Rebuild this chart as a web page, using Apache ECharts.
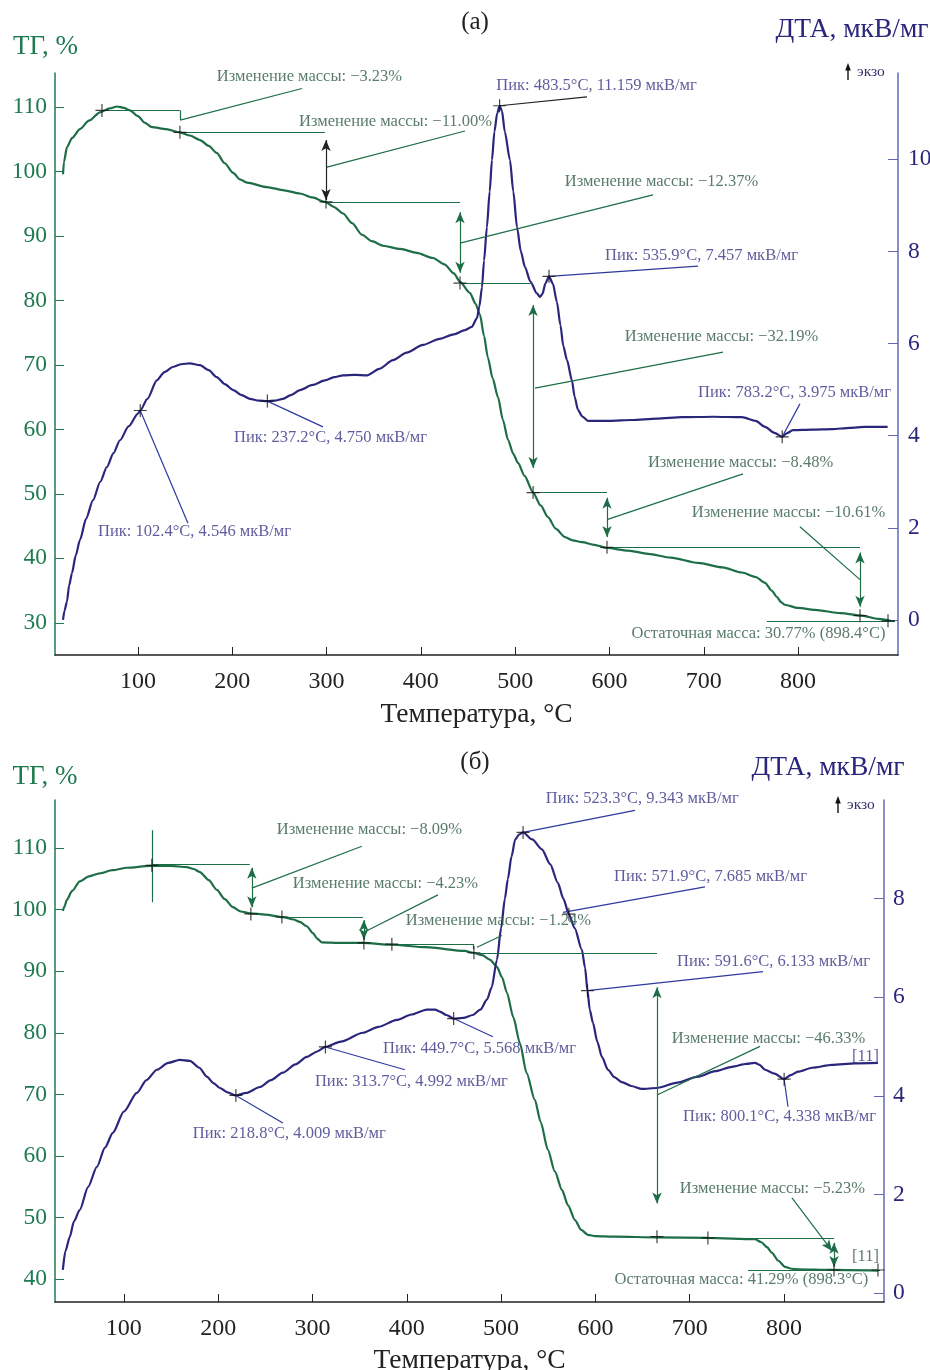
<!DOCTYPE html>
<html><head><meta charset="utf-8">
<script src="https://cdn.jsdelivr.net/npm/echarts@6/dist/echarts.min.js"></script>
<style>html,body{margin:0;padding:0;background:#fff}#c{width:930px;height:1370px}</style>
</head><body><div id="c"></div><script>
const FONT = '"Liberation Serif","DejaVu Serif","Times New Roman",serif';

// ---------- tick labels ----------
const xTicks = [100, 200, 300, 400, 500, 600, 700, 800];
const aTgTicks = [30, 40, 50, 60, 70, 80, 90, 100, 110];
const aDtaTicks = [0, 2, 4, 6, 8, 10];
const bTgTicks = [40, 50, 60, 70, 80, 90, 100, 110];
const bDtaTicks = [0, 2, 4, 6, 8];

// ---------- (а) TG curve ----------
const aTgTemp = [20.5,21.5,24.7,30,38.5,48,59.7,70,77.7,85,91.5,100,107,114.8,130,144.5,155,165.8,175,183.5,192,201,208,215.6,236.8,255,271.8,285,298.3,308,317.5,327,337.6,348,360,378,395.7,412.8,425,435,441.5,452,458,462.7,467,471,476,481.8,487,492.4,498,503,510,519,527,534.8,543,552.8,561,570.9,584,597.4,620,640.9,665,693.9,720,740.5,755,765,772,777.7,782,786,800,818,845,867.8,885,898];
const aTgVal = [99.6,101.5,103.8,105.2,106.6,107.9,109.2,109.8,110.1,109.9,109.5,108.6,107.6,106.9,106.6,106.1,105.6,104.9,104.0,102.9,101.3,99.8,98.8,98.3,97.6,97.1,96.6,96.0,95.3,94.5,93.5,92.0,90.2,89.2,88.5,88.0,87.4,86.6,85.6,84.2,82.9,81.2,79.5,77.8,74.5,71.2,68.0,65.0,61.5,58.4,56.2,54.8,52.8,50.2,48.2,46.4,44.6,43.3,42.8,42.5,42.1,41.6,41.2,40.7,40.1,39.3,38.6,37.8,37.1,36.2,35.0,34.0,33.2,32.8,32.3,32.0,31.5,31.1,30.6,30.3];

// ---------- (а) DTA curve ----------
const aDtaTemp = [20.5,22,24.7,27,30,34,38.5,45,52.3,60,67,74,80.9,90,100,102.4,110,120,128,137,146,155,165.7,175,183.5,192,201,210,218.8,228,237.2,245,253.8,262,271.8,285,298.3,308,317.5,330,342.9,356,370.4,385,402.2,420,435,446.8,454,459.5,462,464.8,467,470,473,475.4,478,481,483.5,486,489,494.5,498,502,506,510.4,516,523,526.3,529,532,535.9,540,544.3,548,551,555,560.2,563,566.6,571,577.2,600,623.9,650,676.9,710,740.5,755,765,775,783.2,788,794.6,815,836,855,871,895];
const aDtaVal = [0.0,0.2,0.4,0.75,1.02,1.4,1.74,2.2,2.6,3.0,3.32,3.62,3.9,4.2,4.48,4.546,4.8,5.2,5.38,5.49,5.55,5.57,5.53,5.42,5.27,5.12,4.99,4.88,4.8,4.76,4.75,4.76,4.8,4.88,4.99,5.1,5.2,5.27,5.31,5.32,5.31,5.45,5.64,5.8,5.97,6.1,6.2,6.29,6.36,6.55,6.8,7.22,7.8,8.52,9.3,9.98,10.6,11.0,11.159,11.05,10.6,9.98,9.3,8.52,8.0,7.66,7.35,7.09,7.01,7.08,7.3,7.457,7.3,6.9,6.4,5.95,5.64,5.2,4.85,4.56,4.42,4.32,4.32,4.34,4.37,4.4,4.41,4.4,4.32,4.19,4.06,3.975,4.05,4.12,4.13,4.14,4.17,4.19,4.19];

// ---------- (б) TG curve ----------
const bTgTemp = [35.3,37,39.6,45,53.3,63,74.5,88,103.2,127.6,150,166.6,174,180.6,190,198.6,207,215.6,224,233.6,250,268.6,280,286.6,294,300.4,305,310,330,353.5,384.2,420,461.6,470,480,488,495.6,501,506.2,513,520,527,535.8,542,549.6,557,564.5,571,578.3,585,592,600,620.7,665,719.3,769.2,776,782,787,794,801,808,815,850,899.6];
const bTgVal = [99.8,100.5,101.6,103.0,104.6,105.4,105.9,106.4,106.8,107.1,107.1,106.9,106.6,106.1,104.8,103.2,101.7,100.4,99.7,99.4,99.2,98.8,98.4,98.0,97.3,96.2,95.3,94.7,94.6,94.6,94.3,93.9,93.3,93.0,92.6,91.9,90.7,89.0,86.5,82.5,78.3,73.5,69.1,65.5,61.0,57.5,54.5,52.0,49.6,48.0,47.2,47.0,46.9,46.8,46.7,46.5,46.0,45.2,44.3,43.0,42.0,41.7,41.6,41.5,41.4];

// ---------- (б) DTA curve ----------
const bDtaTemp = [35.3,38,42.7,47,53.3,62,71.4,80,88.3,100,113.8,124,135,147,159.4,170,180,188,195,201.8,210,218.8,230,244.2,256,268.6,282,294,305,313.7,330,353.5,370,389.5,405,421.3,430,435,442,449.7,460,470,478,485,490,495.6,500,504,507.2,511,515,519,523.3,533,543.3,552,560.2,566,571.9,578,585.7,589,591.6,594,597.4,602,606.9,613.3,620,628.1,638,649.3,665.2,687,708.7,727,744.8,760,769.2,774,779.8,790,800.1,807,814.8,830,850.8,875,899.6];
const bDtaVal = [0.47,0.85,1.14,1.45,1.69,2.15,2.56,2.95,3.25,3.68,4.06,4.32,4.53,4.67,4.73,4.71,4.57,4.39,4.26,4.16,4.07,4.009,4.06,4.18,4.32,4.47,4.64,4.79,4.9,4.992,5.1,5.28,5.4,5.54,5.65,5.75,5.75,5.71,5.64,5.568,5.58,5.64,5.75,5.95,6.2,6.76,7.4,8.0,8.4,8.85,9.2,9.3,9.343,9.2,9.0,8.7,8.32,8.0,7.685,7.4,6.96,6.6,6.133,5.75,5.48,5.1,4.79,4.53,4.38,4.28,4.2,4.14,4.16,4.27,4.39,4.5,4.59,4.65,4.67,4.63,4.53,4.45,4.338,4.42,4.49,4.57,4.63,4.66,4.67];

// ---------- (а) annotations, TG axis ----------
const aTgSteps = [
  [[61.8,109.5],[144.5,109.5],[144.5,108.0]],
  [[144.5,106.1],[298.3,106.1]],
  [[299.4,95.3],[441.5,95.3]],
  [[441.5,82.7],[517.9,82.7]],
  [[519,50.2],[597.4,50.2]],
  [[597.4,41.7],[865.7,41.7]],
  [[767,30.3],[902.8,30.3]]
];
const aTgArrows = [[441.5,93.7,84.3],[519,79.3,54.0],[597.4,49.4,43.3],[865.7,40.9,32.5]];
const aTgArrowsDark = [[299.4,104.9,95.6]];
const aTgLeaders = [
  [[144.8,108.0],[273.9,112.9]],
  [[300.4,100.7],[446.8,106.3]],
  [[441.5,88.9],[646.2,96.4]],
  [[521,66.4],[720.4,72.0]],
  [[597.4,46.0],[741.6,53.1]],
  [[865.7,36.7],[802,44.9]]
];
const aTgCrosses = [[61.8,109.5],[144.5,106.1],[299.4,95.3],[441.5,82.7],[519,50.2],[597.4,41.7],[865.7,31.1],[895.4,30.3]];
const aTgLabels = [
  [282.4,114.65,'Изменение массы: −3.23%'],
  [373.6,107.7,'Изменение массы: −11.00%'],
  [655.7,98.4,'Изменение массы: −12.37%'],
  [719.4,74.3,'Изменение массы: −32.19%'],
  [739.5,54.8,'Изменение массы: −8.48%'],
  [790.4,47.05,'Изменение массы: −10.61%'],
  [758.6,28.3,'Остаточная масса: 30.77% (898.4°C)']
];
// ---------- (а) annotations, DTA axis ----------
const aDtaCrosses = [[102.4,4.546],[237.2,4.750],[483.5,11.159],[535.9,7.457],[783.2,3.975]];
const aDtaLeaders = [
  [[102.4,4.546],[153,2.10]],
  [[237.2,4.75],[296.2,4.19]],
  [[535.9,7.457],[693.9,7.68]],
  [[783.2,3.975],[802,4.69]]
];
const aDtaLeadersDark = [[[483.5,11.159],[576.2,11.35]]];
const aDtaLabels = [
  [160.5,1.91,'Пик: 102.4°C, 4.546 мкВ/мг'],
  [304.7,3.95,'Пик: 237.2°C, 4.750 мкВ/мг'],
  [586.8,11.58,'Пик: 483.5°C, 11.159 мкВ/мг'],
  [698.1,7.9,'Пик: 535.9°C, 7.457 мкВ/мг'],
  [796.8,4.92,'Пик: 783.2°C, 3.975 мкВ/мг']
];

// ---------- (б) annotations, TG axis ----------
const bTgSteps = [
  [[129.7,112.9],[129.7,101.2]],
  [[129.7,107.3],[233.6,107.3]],
  [[267.6,98.8],[353.5,98.8]],
  [[384.2,94.4],[471,94.4],[471,93.6]],
  [[471.2,93.0],[665.3,93.0]],
  [[719.3,46.7],[853,46.7]],
  [[761.8,41.5],[901.8,41.5]]
];
const bTgArrows = [[235.7,106.8,100.4],[354.5,98.3,95.1],[665.3,87.4,52.3],[853,45.9,42.0]];
const bTgLeaders = [
  [[235.7,103.5],[352.4,110.3]],
  [[355.6,96.4],[433,102.4]],
  [[474.4,93.9],[500.9,95.8]],
  [[665.3,69.9],[774.5,77.8]]
];
const bTgPointers = [[[808.4,53.2],[850.9,44.6]]];
const bTgCrosses = [[129.7,107.2],[234.7,99.3],[267.6,98.8],[354.5,94.6],[384.2,94.4],[471.2,93.0],[665.3,46.9],[719.3,46.7],[853,41.5],[899.6,41.5]];
const bTgLabels = [
  [360.9,112.9,'Изменение массы: −8.09%'],
  [377.9,104.2,'Изменение массы: −4.23%'],
  [497.7,98.15,'Изменение массы: −1.24%'],
  [784,79.0,'Изменение массы: −46.33%'],
  [788.3,54.6,'Изменение массы: −5.23%'],
  [755.4,39.9,'Остаточная масса: 41.29% (898.3°C)'],
  [886.9,43.5,'[11]']
];
// ---------- (б) annotations, DTA axis ----------
const bDtaCrosses = [[218.8,4.009],[313.7,4.992],[449.7,5.568],[523.3,9.343],[571.9,7.685],[591.6,6.133],[800.1,4.338]];
const bDtaLeaders = [
  [[218.8,4.009],[268.6,3.45]],
  [[313.7,4.992],[398,4.53]],
  [[449.7,5.568],[491.3,5.2]],
  [[523.3,9.343],[642,9.79]],
  [[565.6,7.72],[716.2,8.24]],
  [[591.6,6.133],[777.7,6.52]],
  [[800.1,4.338],[804.2,3.78]]
];
const bDtaLabels = [
  [276,3.23,'Пик: 218.8°C, 4.009 мкВ/мг'],
  [405.4,4.28,'Пик: 313.7°C, 4.992 мкВ/мг'],
  [477.6,4.95,'Пик: 449.7°C, 5.568 мкВ/мг'],
  [650.3,10.01,'Пик: 523.3°C, 9.343 мкВ/мг'],
  [722.5,8.43,'Пик: 571.9°C, 7.685 мкВ/мг'],
  [789.4,6.72,'Пик: 591.6°C, 6.133 мкВ/мг'],
  [795.7,3.57,'Пик: 800.1°C, 4.338 мкВ/мг'],
  [886.9,4.79,'[11]']
];

// ---------- styles ----------
const GREEN = '#1d6e46', GREEN_AX = '#1f7a4f', GREEN_TXT = '#2f5a44';
const NAVY = '#29267c', NAVY_AX = '#5f68b6', NAVY_TXT = '#353385';
const CROSS = 'path://M0,4.55H10V5.45H0Z M4.55,0H5.45V10H4.55Z';
const ANNO_SIZE = 16.5;

const zip = (t, v) => t.map((x, i) => [x, v[i]]);
function polyPairs(polys, extra) {
  const out = [];
  polys.forEach(p => { for (let i = 0; i < p.length - 1; i++) out.push([Object.assign({coord: p[i]}, extra || {}), {coord: p[i + 1]}]); });
  return out;
}
function dbl(arr) { return arr.map(([x, y1, y2]) => [{coord: [x, y1], symbol: 'arrow'}, {coord: [x, y2], symbol: 'arrow'}]); }
function pointer(arr) { return arr.map(([p, q]) => [{coord: p, symbol: 'none'}, {coord: q, symbol: 'arrow'}]); }

function lineLayer(xi, yi, lines, color) {
  return {
    type: 'scatter', xAxisIndex: xi, yAxisIndex: yi, data: [], silent: true, clip: false, z: 3,
    markLine: {
      silent: true, animation: false, symbol: ['none', 'none'], symbolSize: [7, 11], precision: 4,
      label: {show: false}, emphasis: {disabled: true},
      lineStyle: {color: color, width: 1.2, type: 'solid'}, data: lines
    }
  };
}
function crossLayer(xi, yi, pts) {
  return {type: 'scatter', xAxisIndex: xi, yAxisIndex: yi, data: pts, symbol: CROSS, symbolSize: 13,
    itemStyle: {color: '#111'}, silent: true, clip: false, z: 6, animation: false};
}
function labelLayer(xi, yi, labels, color) {
  return {type: 'scatter', xAxisIndex: xi, yAxisIndex: yi, symbolSize: 1, itemStyle: {color: 'rgba(0,0,0,0)'},
    silent: true, clip: false, z: 7, animation: false,
    data: labels.map(l => ({value: [l[0], l[1]], name: l[2]})),
    label: {show: true, formatter: '{b}', position: [0, 0], align: 'center', verticalAlign: 'middle',
      color: color, fontFamily: FONT, fontSize: ANNO_SIZE}};
}
function curve(xi, yi, data, color) {
  return {type: 'line', xAxisIndex: xi, yAxisIndex: yi, data: data, showSymbol: false, symbol: 'none',
    smooth: 0.25, smoothMonotone: 'x', lineStyle: {color: color, width: 2.2}, silent: true, z: 4, animation: false};
}

function xAxis(gi, min, max, margin, nameGap) {
  return {type: 'value', gridIndex: gi, min: min, max: max, splitLine: {show: false},
    axisLine: {show: true, onZero: false, lineStyle: {color: '#222', width: 1.5}},
    axisTick: {show: true, inside: true, length: 8, customValues: xTicks, lineStyle: {color: '#222'}},
    axisLabel: {customValues: xTicks, color: '#222', fontFamily: FONT, fontSize: 24, margin: margin},
    name: 'Температура, °C', nameLocation: 'middle', nameGap: nameGap,
    nameTextStyle: {color: '#222', fontFamily: FONT, fontSize: 27.5}};
}
function yAxis(gi, pos, min, max, ticks, axColor, txtColor, tickLen, margin) {
  return {type: 'value', gridIndex: gi, position: pos, min: min, max: max, splitLine: {show: false},
    axisLine: {show: true, onZero: false, lineStyle: {color: axColor, width: 1.5}},
    axisTick: {show: true, inside: true, length: tickLen, customValues: ticks, lineStyle: {color: axColor}},
    axisLabel: {customValues: ticks, color: txtColor, fontFamily: FONT, fontSize: 23.5, margin: margin}};
}

function txt(x, y, s, size, color, align) {
  return {type: 'text', x: x, y: y, silent: true,
    style: {text: s, fill: color, font: size + 'px ' + FONT, align: align || 'center', verticalAlign: 'middle'}};
}
function exo(x, y) {
  return [
    {type: 'line', silent: true, shape: {x1: x, y1: y + 8, x2: x, y2: y - 3}, style: {stroke: '#111', lineWidth: 1.4}},
    {type: 'polygon', silent: true, shape: {points: [[x - 2.8, y - 1.5], [x + 2.8, y - 1.5], [x, y - 9]]}, style: {fill: '#111'}},
    txt(x + 9, y, 'экзо', 15.5, '#33316e', 'left')
  ];
}

const option = {
  backgroundColor: '#fff',
  animation: false,
  grid: [
    {left: 55, top: 73, width: 843, height: 582, containLabel: false, outerBoundsMode: 'none'},
    {left: 55, top: 800, width: 829, height: 502, containLabel: false, outerBoundsMode: 'none'}
  ],
  xAxis: [xAxis(0, 12, 906, 15, 46), xAxis(1, 27, 906, 15, 45)],
  yAxis: [
    yAxis(0, 'left', 25, 115.3, aTgTicks, GREEN_AX, GREEN_AX, 9, 8),
    yAxis(0, 'right', -0.76, 11.87, aDtaTicks, NAVY_AX, NAVY, 10, 10),
    yAxis(1, 'left', 36.3, 117.8, bTgTicks, GREEN_AX, GREEN_AX, 9, 8),
    yAxis(1, 'right', -0.18, 10.0, bDtaTicks, NAVY_AX, NAVY, 10, 9)
  ],
  graphic: [
    txt(475, 22, '(а)', 25, '#222'),
    txt(45.5, 47, 'ТГ, %', 27, GREEN_AX),
    txt(852, 30, 'ДТА, мкВ/мг', 27.5, NAVY),
    ...exo(848, 72),
    txt(475, 762, '(б)', 25, '#222'),
    txt(45, 777, 'ТГ, %', 27, GREEN_AX),
    txt(828, 768, 'ДТА, мкВ/мг', 27.5, NAVY),
    ...exo(838, 805)
  ],
  series: [
    // (а)
    curve(0, 0, zip(aTgTemp, aTgVal), GREEN),
    curve(0, 1, zip(aDtaTemp, aDtaVal), NAVY),
    lineLayer(0, 0, polyPairs(aTgSteps).concat(dbl(aTgArrows), polyPairs(aTgLeaders)), GREEN),
    lineLayer(0, 0, dbl(aTgArrowsDark), '#222'),
    lineLayer(0, 1, polyPairs(aDtaLeaders), '#2e3a9e'),
    lineLayer(0, 1, polyPairs(aDtaLeadersDark), '#222'),
    crossLayer(0, 0, aTgCrosses),
    crossLayer(0, 1, aDtaCrosses),
    labelLayer(0, 0, aTgLabels, GREEN_TXT),
    labelLayer(0, 1, aDtaLabels, NAVY_TXT),
    // (б)
    curve(1, 2, zip(bTgTemp, bTgVal), GREEN),
    curve(1, 3, zip(bDtaTemp, bDtaVal), NAVY),
    lineLayer(1, 2, polyPairs(bTgSteps).concat(dbl(bTgArrows), polyPairs(bTgLeaders), pointer(bTgPointers)), GREEN),
    lineLayer(1, 3, polyPairs(bDtaLeaders), '#2e3a9e'),
    crossLayer(1, 2, bTgCrosses),
    crossLayer(1, 3, bDtaCrosses),
    labelLayer(1, 2, bTgLabels, GREEN_TXT),
    labelLayer(1, 3, bDtaLabels, NAVY_TXT)
  ]
};

const chart = echarts.init(document.getElementById('c'), null, {renderer: 'canvas'});
chart.setOption(option);
</script></body></html>
